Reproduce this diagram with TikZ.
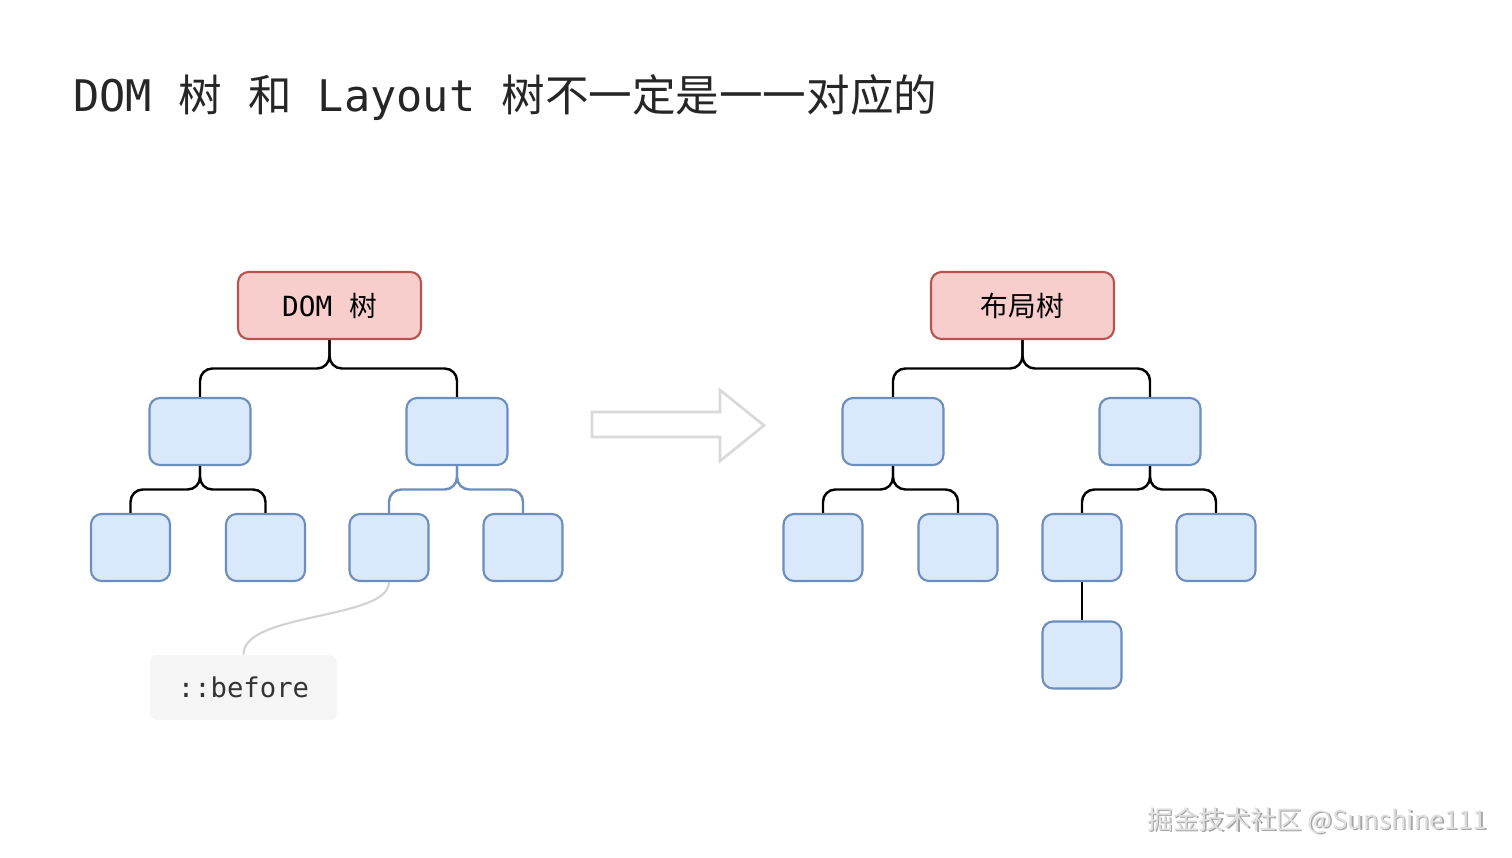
\documentclass[tikz,border=0pt]{standalone}
\usepackage{fontspec}
\setmonofont{DejaVu Sans Mono}
\newfontfamily\cjk{Noto Sans CJK SC}
\usetikzlibrary{
	calc,
	positioning
}
\definecolor{RootFill}{HTML}{F8CECC}
\definecolor{RootLine}{HTML}{B85450}
\definecolor{BoxFill}{HTML}{DAE8FC}
\definecolor{BoxLine}{HTML}{6C8EBF}

% parent -> child, orthogonal with rounded bends
\newcommand{\branch}[3][black]{%
	\draw[link,#1] (#2.south) -- ($(#2.south)!0.5!(#2.south|-#3.north)$) -| (#3.north);}

\begin{document}
\begin{tikzpicture}[x=0.02cm, y=-0.02cm,
		root/.style={draw=RootLine, fill=RootFill, line width=1.2pt, rounded corners=6pt,
			minimum width=3.66cm, minimum height=1.34cm, inner sep=0pt,
			font=\fontsize{15.8pt}{18pt}\selectfont},
		midbox/.style={draw=BoxLine, fill=BoxFill, line width=1.2pt, rounded corners=6pt,
			minimum width=2.02cm, minimum height=1.34cm, inner sep=0pt},
		leafbox/.style={midbox, minimum width=1.58cm},
		link/.style={line width=1.4pt, rounded corners=7pt}]
	\useasboundingbox (0,0) rectangle (1512,858);
	
	% 标题
	\node[anchor=west, inner sep=0pt, text=black!85, font=\ttfamily\fontsize{24.8pt}{28pt}\selectfont] (title) at (73,98)
		{DOM {\cjk 树} {\cjk 和} Layout {\cjk 树不一定是一一对应的}};
	
	% DOM 树
	\node[root] (dom) at (329.5,305.5) {\raisebox{-1pt}{\ttfamily DOM {\cjk 树}}};
	\node[midbox] (d1) at (200,431.5) {};
	\node[midbox] (d2) at (457,431.5) {};
	\node[leafbox] (d11) at (130.5,547.5) {};
	\node[leafbox] (d12) at (265.5,547.5) {};
	\node[leafbox] (d21) at (389,547.5) {};
	\node[leafbox] (d22) at (523,547.5) {};
	\branch{dom}{d1}
	\branch{dom}{d2}
	\branch{d1}{d11}
	\branch{d1}{d12}
	\branch[BoxLine]{d2}{d21}
	\branch[BoxLine]{d2}{d22}
	
	% 伪元素
	\node[fill=gray!8, rounded corners=4pt, minimum width=3.74cm, minimum height=1.3cm, inner sep=0pt,
		font=\ttfamily\fontsize{15.5pt}{18pt}\selectfont, text=black!80] (before) at (243.5,687.5) {::before};
	\draw[gray!35, line width=1.2pt] (d21.south) .. controls (389,620) and (243,612) .. (before.north);
	
	% 中间箭头
	\draw[gray!30, fill=white, line width=1.5pt, line join=miter]
		(592,412) -- (720,412) -- (720,390) -- (764,425.5) -- (720,461) -- (720,437) -- (592,437) -- cycle;
	
	% 布局树
	\node[root] (lay) at (1022.5,305.5) {\raisebox{-1pt}{\cjk 布局树}};
	\node[midbox] (l1) at (893,431.5) {};
	\node[midbox] (l2) at (1150,431.5) {};
	\node[leafbox] (l11) at (823,547.5) {};
	\node[leafbox] (l12) at (958,547.5) {};
	\node[leafbox] (l21) at (1082,547.5) {};
	\node[leafbox] (l22) at (1216,547.5) {};
	\node[leafbox] (l211) at (1082,655) {};
	\branch{lay}{l1}
	\branch{lay}{l2}
	\branch{l1}{l11}
	\branch{l1}{l12}
	\branch{l2}{l21}
	\branch{l2}{l22}
	\draw[link] (l21) -- (l211);
	
	% 水印
	\node[anchor=east, inner sep=0pt, text=gray!70, font=\cjk\fontsize{14.7pt}{16pt}\selectfont] (markshadow) at (1489,822) {掘金技术社区 @Sunshine111};
	\node[anchor=east, inner sep=0pt, text=gray!25, font=\cjk\fontsize{14.7pt}{16pt}\selectfont] (mark) at (1487.5,820.5) {掘金技术社区 @Sunshine111};
\end{tikzpicture}
\end{document}
